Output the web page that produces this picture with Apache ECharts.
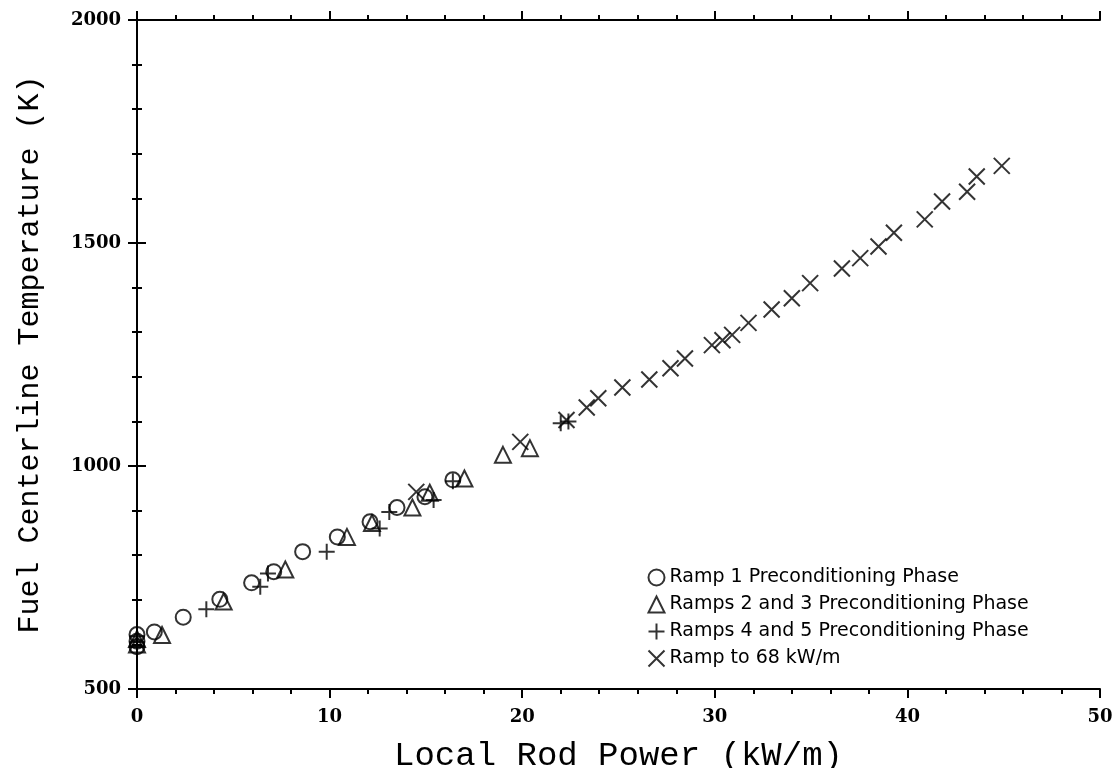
<!DOCTYPE html>
<html><head><meta charset="utf-8">
<script src="https://cdn.jsdelivr.net/npm/echarts@6/dist/echarts.min.js"></script>
<style>html,body{margin:0;padding:0;background:#fff}#c{width:1119px;height:768px}</style>
</head><body><div id="c"></div>
<script>
const xTitle = 'Local Rod Power (kW/m)';
const yTitle = 'Fuel Centerline Temperature (K)';
const seriesNames = ['Ramp 1 Preconditioning Phase','Ramps 2 and 3 Preconditioning Phase','Ramps 4 and 5 Preconditioning Phase','Ramp to 68 kW/m'];
const ramp1 = [[0,622],[0,607],[0,595],[0.9,628],[2.4,661],[4.3,701],[5.95,738],[7.1,763],[8.6,808],[10.4,841],[12.1,875],[13.5,907],[14.95,931],[16.4,969]];
const ramps23 = [[0,612],[0,600],[1.3,621],[4.5,696],[7.7,768],[10.9,841],[12.2,872],[14.3,907],[15.2,940],[17.0,972],[19.0,1025],[20.4,1040]];
const ramps45 = [[0,618],[0,605],[0,595],[3.6,679],[6.4,729],[6.8,759],[9.85,808],[12.6,860],[13.1,897],[15.4,924],[16.4,966],[22.0,1096],[22.4,1100]];
const ramp68 = [[14.5,942],[19.9,1054],[22.3,1103],[23.35,1131],[23.95,1152],[25.2,1176],[26.6,1194],[27.7,1219],[28.45,1241],[29.85,1271],[30.4,1282],[30.9,1294],[31.75,1321],[32.95,1351],[34.0,1376],[34.95,1410],[36.6,1443],[37.55,1466],[38.5,1492],[39.3,1523],[40.9,1553],[41.8,1593],[43.1,1615],[43.6,1649],[44.9,1673]];

const chart = echarts.init(document.getElementById('c'));
const lbl = {fontFamily:'DejaVu Serif', fontWeight:'bold', fontSize:18, color:'#000', formatter: v => String(v)};
const axLine = {show:true, lineStyle:{color:'#000', width:2}};
function xAx(pos, show){
  return {type:'value', position:pos, min:0, max:50, interval:10,
    axisLine:axLine, axisTick:{show:true, inside:false, length:9, lineStyle:{color:'#000',width:2}},
    minorTick:{show:true, splitNumber:5, length:5, lineStyle:{color:'#000',width:2}},
    splitLine:{show:false}, axisLabel:{show:show, margin:19, ...lbl},
    name: show? xTitle : '', nameLocation:'middle', nameGap:50,
    nameTextStyle:{fontFamily:'Liberation Mono', fontSize:34, color:'#000'}};
}
function yAx(pos, show){
  return {type:'value', position:pos, min:500, max:2000, interval:500,
    axisLine:axLine, axisTick:{show:true, inside:false, length:9, lineStyle:{color:'#000',width:2}},
    minorTick:{show:true, splitNumber:5, length:5, lineStyle:{color:'#000',width:2}},
    splitLine:{show:false}, axisLabel:{show:show, margin:16, ...lbl},
    name: show? yTitle : '', nameLocation:'middle', nameGap:92,
    nameTextStyle:{fontFamily:'Liberation Mono', fontSize:30, color:'#000'}};
}
const plusPath = 'path://M0,5L10,5M5,0L5,10';
const xPath = 'path://M0,0L10,10M10,0L0,10';
const stroke = {color:'none', borderColor:'#000', borderWidth:2};
function sc(name, data, symbol, size){
  return {type:'scatter', name, data, symbol, symbolSize:size, itemStyle:stroke, xAxisIndex:0, yAxisIndex:0, z:3};
}
chart.setOption({
  animation:false,
  backgroundColor:'#fff',
  grid:{left:137, right:19, top:20, bottom:79, containLabel:false, outerBoundsMode:'none'},
  xAxis:[xAx('bottom',true), xAx('top',false)],
  yAxis:[yAx('left',true), yAx('right',false)],
  legend:{orient:'vertical', left:641, bottom:94, itemGap:6, itemWidth:16, itemHeight:16,
    textStyle:{fontFamily:'DejaVu Sans', fontSize:19, color:'#000'},
    data:seriesNames},
  series:[
    sc(seriesNames[0], ramp1, 'circle', 15),
    sc(seriesNames[1], ramps23, 'triangle', 16),
    sc(seriesNames[2], ramps45, plusPath, 16),
    sc(seriesNames[3], ramp68, xPath, 16)
  ]
});
</script></body></html>
